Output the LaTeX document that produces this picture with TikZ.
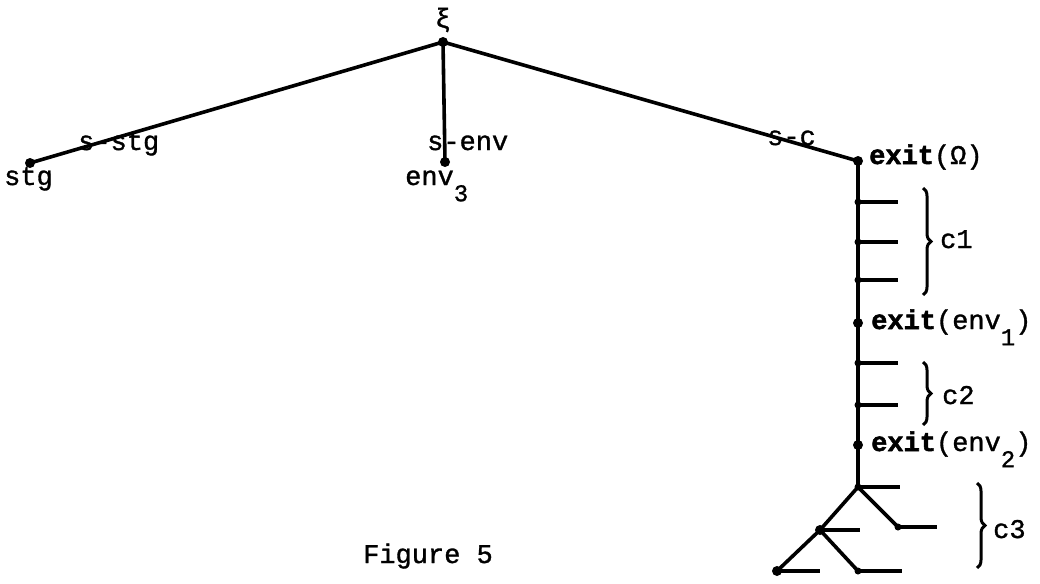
\documentclass[tikz,border=0pt]{standalone}
\usepackage{fontspec}
\setmainfont[FakeBold=1.2,BoldFeatures={FakeBold=2}]{Liberation Mono}
\usetikzlibrary{decorations.pathreplacing}
\begin{document}
\begin{tikzpicture}[x=1pt,y=-1pt,
  edge/.style={line width=3.6pt},
  dot/.style={circle,fill,inner sep=0pt,minimum size=10pt},
  joint/.style={circle,fill,inner sep=0pt,minimum size=7pt},
  lbl/.style={font=\fontsize{27}{32}\selectfont,inner sep=0pt,anchor=base west},
  brc/.style={line width=3pt,decorate,decoration={brace,amplitude=8pt}}]
\newcommand{\lowsub}[1]{\raisebox{-0.6em}{\fontsize{24}{28}\selectfont #1}}

\useasboundingbox (0,0) rectangle (1040,583);

% tree nodes
\node[dot] (xi)   at (443,42)  {};
\node[dot] (stg)  at (30,163)  {};
\node[dot] (env3) at (445,162) {};
\node[dot] (om)   at (858,161) {};
\node[joint] (a1) at (858,202) {};
\node[joint] (a2) at (858,242) {};
\node[joint] (a3) at (858,280) {};
\node[dot] (e1)   at (858,323) {};
\node[joint] (b1) at (858,363) {};
\node[joint] (b2) at (858,405) {};
\node[dot] (e2)   at (858,445) {};
\node[joint] (fk) at (858,487) {};
\node[dot] (lf)   at (820,530) {};
\node[joint] (rt) at (898,527) {};
\node[dot] (bl)   at (777,571) {};
\node[joint] (br) at (858,571) {};

% free ends of the short branches
\coordinate (a1e) at (898,202);
\coordinate (a2e) at (898,242);
\coordinate (a3e) at (898,280);
\coordinate (b1e) at (898,363);
\coordinate (b2e) at (898,405);
\coordinate (fke) at (900,487);
\coordinate (rte) at (937,527);
\coordinate (lfe) at (860,530);
\coordinate (ble) at (820,571);
\coordinate (bre) at (902,571);

% main edges
\draw[edge] (xi.center) -- (stg.center);
\draw[edge] (xi.center) -- (env3.center);
\draw[edge] (xi.center) -- (om.center);
\draw[edge] (om.center) -- (fk.center);
\draw[edge] (fk.center) -- (lf.center) -- (bl.center);
\draw[edge] (lf.center) -- (br.center);
\draw[edge] (fk.center) -- (rt.center);

% short branches
\foreach \n in {a1,a2,a3,b1,b2,fk,rt,lf,bl,br}
  \draw[edge] (\n.center) -- (\n e);

% braces
\coordinate (c1t) at (923,188); \coordinate (c1b) at (923,295);
\coordinate (c2t) at (923,362); \coordinate (c2b) at (923,425);
\coordinate (c3t) at (977,483); \coordinate (c3b) at (977,568);
\draw[brc] (c1t) -- (c1b);
\draw[brc] (c2t) -- (c2b);
\draw[brc] (c3t) -- (c3b);

% labels
\node[lbl,anchor=center] (lxi) at (443,20) {ξ};
\node[lbl] (lstg)  at (4,185)   {stg};
\node[lbl] (lsstg) at (78,150)  {s-stg};
\node[lbl] (lsenv) at (427,150) {s-env};
\node[lbl] (lenv3) at (405,185) {env\lowsub{3}};
\node[lbl] (lsc)   at (767,145) {s-c};
\node[lbl] (lom)   at (869,164) {\textbf{exit}(Ω)};
\node[lbl] (lc1)   at (940,248) {c1};
\node[lbl] (le1)   at (871,329) {\textbf{exit}(env\lowsub{1})};
\node[lbl] (lc2)   at (942,404) {c2};
\node[lbl] (le2)   at (871,451) {\textbf{exit}(env\lowsub{2})};
\node[lbl] (lc3)   at (993,538) {c3};
\node[lbl] (lfig)  at (363,563) {Figure 5};
\end{tikzpicture}
\end{document}
